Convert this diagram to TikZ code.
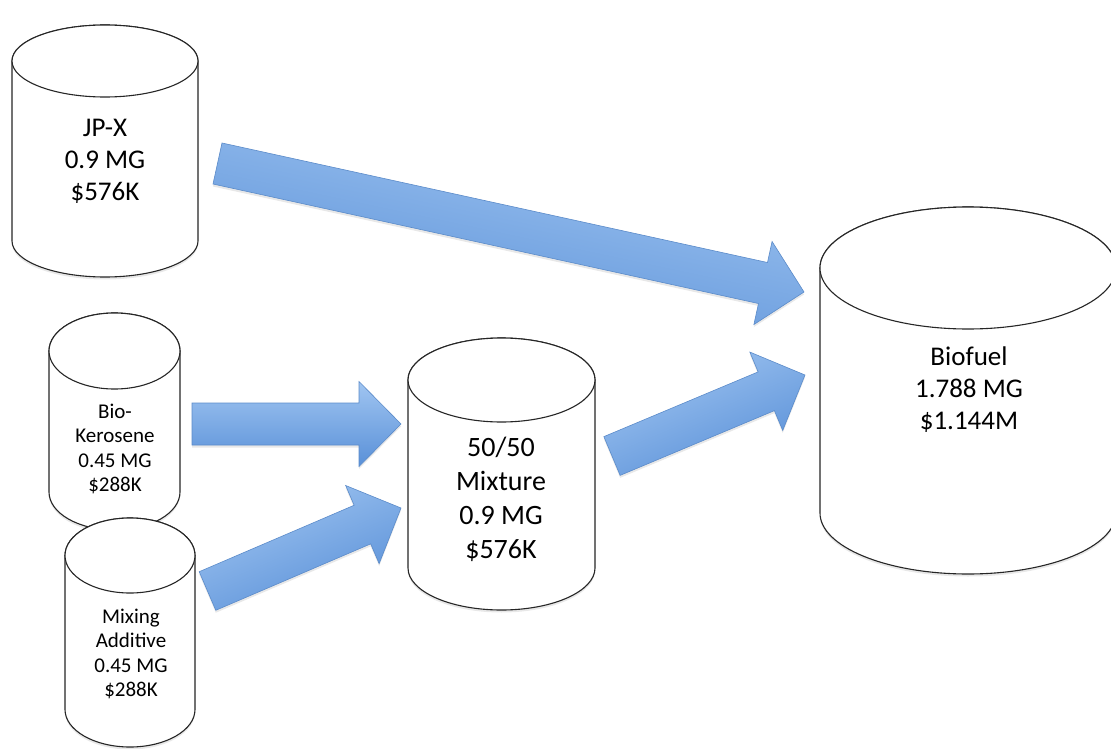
\documentclass[tikz,border=0pt]{standalone}
\usepackage{fontspec}
\setmainfont{Carlito}
\usetikzlibrary{calc, shadows}
\definecolor{arrtop}{HTML}{A0C5F1}
\definecolor{arrbot}{HTML}{5990D8}
\definecolor{arrline}{HTML}{5B8BC9}
\tikzset{
  tank/.style={draw=black!85, fill=white, line width=1.1pt},
  softshadow/.style={drop shadow={shadow xshift=0pt, shadow yshift=-2.5pt, opacity=0.18}},
  lblbig/.style={align=center, inner sep=0pt, font=\fontsize{27}{32}\selectfont},
  lblmix/.style={align=center, inner sep=0pt, font=\fontsize{28}{34}\selectfont},
  lblsmall/.style={align=center, inner sep=0pt, font=\fontsize{21}{24.5}\selectfont},
  barrow/.style={draw=arrline, line width=0.6pt, line join=miter, top color=arrtop, bottom color=arrbot},
}
% a standing tank: centre x, top y, bottom y, x radius, y radius
\newcommand{\drawtank}[5]{%
  \path[tank, softshadow] (#1-#4,#2) -- (#1-#4,#3)
    arc[start angle=180, end angle=0, x radius=#4, y radius=#5]
    -- (#1+#4,#2) arc[start angle=0, end angle=-180, x radius=#4, y radius=#5] -- cycle;
  \draw[tank] (#1,#2) ellipse[x radius=#4, y radius=#5];}
% a block arrow from the tail #2 to the tip #3, #1 the shading angle
\newcommand{\blockarrow}[3][0]{%
  \draw[barrow, shading angle=#1, softshadow]
    ($(#2)!21pt!90:(#3)$)
    -- ($(#3)!42pt!(#2)!21pt!-90:(#2)$)
    -- ($(#3)!42pt!(#2)!42.5pt!-90:(#2)$)
    -- (#3)
    -- ($(#3)!42pt!(#2)!42.5pt!90:(#2)$)
    -- ($(#3)!42pt!(#2)!21pt!90:(#2)$)
    -- ($(#2)!21pt!-90:(#3)$) -- cycle;}

\begin{document}
\begin{tikzpicture}[x=1pt, y=-1pt]
\clip (0,0) rectangle (1111,749);
% the tanks
\drawtank{105}{61}{241}{93}{36}
\drawtank{114.5}{351}{492}{65.5}{38}
\drawtank{130}{555.5}{709.5}{65}{37.5}
\drawtank{501.5}{380}{568}{93.5}{42}
\drawtank{968}{268}{513}{148}{61}
\node[lblbig] (jpx) at (105,161) {JP-X\\0.9 MG\\\$576K};
\node[lblsmall] (kero) at (115,449) {Bio-\\Kerosene\\0.45 MG\\\$288K};
\node[lblsmall] (addit) at (131,654) {Mixing\\Additive\\0.45 MG\\\$288K};
\node[lblmix] (mix) at (501,499) {50/50\\Mixture\\0.9 MG\\\$576K};
\node[lblbig] (fuel) at (969,390) {Biofuel\\1.788 MG\\\$1.144M};
% ends of the flows
\coordinate (jpx out) at (217.5,163.5);
\coordinate (fuel in1) at (804,292);
\coordinate (kero out) at (192,424);
\coordinate (mix in1) at (401,424);
\coordinate (addit out) at (207.5,591);
\coordinate (mix in2) at (401,508);
\coordinate (mix out) at (612,456);
\coordinate (fuel in2) at (805,375);
% the flows
\blockarrow[-12]{jpx out}{fuel in1}
\blockarrow{kero out}{mix in1}
\blockarrow[23]{addit out}{mix in2}
\blockarrow[23]{mix out}{fuel in2}
\end{tikzpicture}
\end{document}
